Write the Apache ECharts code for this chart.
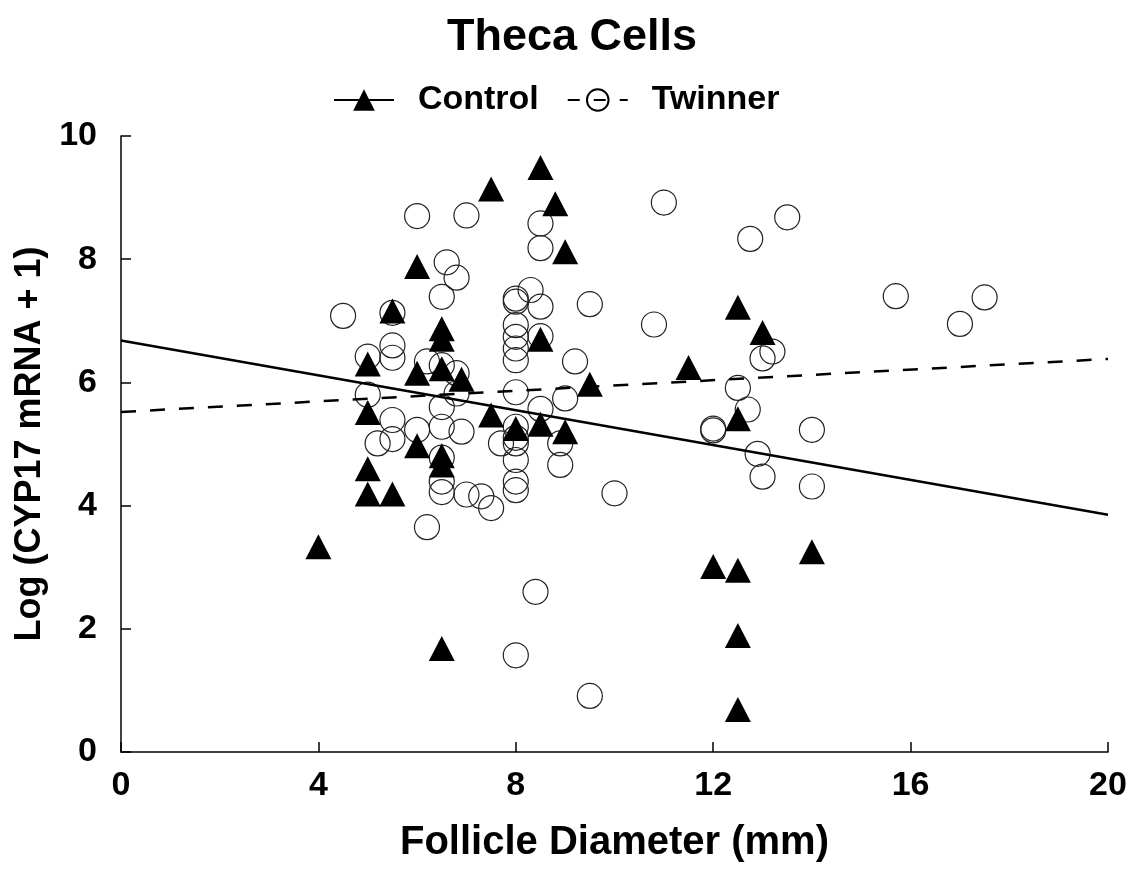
<!DOCTYPE html>
<html>
<head>
<meta charset="utf-8">
<script src="https://cdn.jsdelivr.net/npm/echarts@6/dist/echarts.min.js"></script>
<style>
  html, body { margin: 0; padding: 0; background: #fff; }
  #chart { width: 1144px; height: 882px; }
</style>
</head>
<body>
<div id="chart"></div>
<script>
// control follicles (triangles)
var controlX = [4.0, 5.0, 5.0, 5.0, 5.0, 5.5, 5.5, 6.0, 6.0, 6.0, 6.5, 6.5, 6.5, 6.5, 6.5, 6.5, 6.9, 7.5, 7.5, 8.0,
  8.5, 8.5, 8.5, 8.8, 9.0, 9.0, 9.5, 11.5, 12.0, 12.5, 12.5, 12.5, 12.5, 12.5, 13.0, 14.0];
var controlY = [3.33, 6.30, 5.51, 4.60, 4.19, 7.16, 4.19, 7.88, 6.15, 4.97, 6.87, 6.70, 6.22, 4.81, 4.66, 1.68, 6.05, 9.14, 5.47, 5.25,
  9.49, 6.70, 5.32, 8.90, 8.12, 5.20, 5.97, 6.24, 3.01, 7.22, 5.41, 2.95, 1.89, 0.69, 6.81, 3.25];

// twinner follicles (open circles)
var twinnerX = [4.5, 5.0, 5.0, 5.2, 5.5, 5.5, 5.5, 5.5, 5.5, 6.0, 6.0, 6.2, 6.2, 6.5, 6.5, 6.5, 6.5, 6.5, 6.5, 6.5,
  6.6, 6.8, 6.8, 6.8, 6.9, 7.0, 7.0, 7.3, 7.5, 7.7,
  8, 8, 8, 8, 8, 8, 8, 8, 8, 8, 8, 8, 8, 8,
  8.3, 8.5, 8.5, 8.5, 8.5, 8.5, 8.4, 8.9, 8.9, 9.0, 9.2, 9.5, 9.5, 10.0, 10.8, 11.0,
  12.0, 12.0, 12.5, 12.7, 12.75, 12.9, 13.0, 13.0, 13.2, 13.5, 14.0, 14.0, 15.7, 17.0, 17.5];
var twinnerY = [7.08, 6.42, 5.80, 5.01, 7.13, 6.60, 6.40, 5.39, 5.08, 8.70, 5.23, 6.34, 3.65, 7.39, 6.28, 5.60, 5.28, 4.78, 4.39, 4.22,
  7.95, 7.70, 6.15, 5.82, 5.20, 8.71, 4.18, 4.15, 3.96, 5.01,
  7.36, 7.31, 6.93, 6.74, 6.55, 6.36, 5.84, 5.28, 5.10, 5.01, 4.74, 4.39, 4.25, 1.57,
  7.50, 8.58, 8.18, 7.23, 6.75, 5.57, 2.60, 5.01, 4.66, 5.74, 6.34, 7.27, 0.91, 4.20, 6.94, 8.92,
  5.25, 5.22, 5.91, 5.56, 8.33, 4.84, 6.39, 4.47, 6.50, 8.68, 5.23, 4.31, 7.40, 6.95, 7.38];

// regression lines, evaluated at the ends of the x range
var fitX = [0, 20];
var controlFit = [6.68, 3.85];
var twinnerFit = [5.52, 6.38];

function pairs(xs, ys) {
  return xs.map(function (x, i) { return [x, ys[i]]; });
}

var font = 'Liberation Sans';
var chart = echarts.init(document.getElementById('chart'));

option = {
  animation: false,
  backgroundColor: '#fff',
  title: {
    text: 'Theca Cells',
    left: 'center',
    top: 10,
    textStyle: { fontFamily: font, fontSize: 45, fontWeight: 'bold', color: '#000' }
  },
  legend: {
    data: [
      { name: 'Control' },
      { name: 'Twinner', lineStyle: { type: [12, 14] } }
    ],
    left: 328,
    top: 78,
    itemWidth: 60,
    itemHeight: 27,
    itemGap: 28,
    formatter: function (name) { return '  ' + name; },
    textStyle: { fontFamily: font, fontSize: 34, fontWeight: 'bold', color: '#000' }
  },
  grid: { left: 121, right: 36, top: 136, bottom: 130 },
  xAxis: {
    type: 'value',
    min: 0,
    max: 20,
    interval: 4,
    name: 'Follicle Diameter (mm)',
    nameLocation: 'middle',
    nameGap: 71,
    nameTextStyle: { fontFamily: font, fontSize: 40, fontWeight: 'bold', color: '#000' },
    axisLine: { lineStyle: { color: '#000', width: 1.5 } },
    axisTick: { inside: true, length: 10, lineStyle: { color: '#000', width: 1.5 } },
    axisLabel: { margin: 17, fontFamily: font, fontSize: 34, fontWeight: 'bold', color: '#000' },
    splitLine: { show: false }
  },
  yAxis: {
    type: 'value',
    min: 0,
    max: 10,
    interval: 2,
    name: 'Log (CYP17 mRNA + 1)',
    nameLocation: 'middle',
    nameGap: 68,
    nameTextStyle: { fontFamily: font, fontSize: 36, fontWeight: 'bold', color: '#000' },
    axisLine: { show: true, lineStyle: { color: '#000', width: 1.5 } },
    axisTick: { show: true, inside: true, length: 10, lineStyle: { color: '#000', width: 1.5 } },
    axisLabel: { margin: 24, fontFamily: font, fontSize: 34, fontWeight: 'bold', color: '#000' },
    splitLine: { show: false }
  },
  series: [
    {
      name: 'Control',
      type: 'line',
      data: pairs(fitX, controlFit),
      showSymbol: false,
      symbol: 'triangle',
      itemStyle: { color: '#000' },
      lineStyle: { color: '#000', width: 2.5 },
      silent: true,
      z: 5
    },
    {
      name: 'Twinner',
      type: 'line',
      data: pairs(fitX, twinnerFit),
      showSymbol: false,
      symbol: 'circle',
      itemStyle: { color: 'rgba(0,0,0,0)', borderColor: '#000', borderWidth: 1 },
      lineStyle: { color: '#000', width: 2.5, type: [15, 14] },
      silent: true,
      z: 5
    },
    {
      name: 'Twinner',
      type: 'scatter',
      data: pairs(twinnerX, twinnerY),
      symbol: 'circle',
      symbolSize: 25,
      itemStyle: { color: 'rgba(0,0,0,0)', borderColor: '#222', borderWidth: 1.2, opacity: 1 },
      z: 3
    },
    {
      name: 'Control',
      type: 'scatter',
      data: pairs(controlX, controlY),
      symbol: 'triangle',
      symbolSize: [26, 25],
      itemStyle: { color: '#000', opacity: 1 },
      z: 4
    }
  ]
};

chart.setOption(option);
</script>
</body>
</html>
